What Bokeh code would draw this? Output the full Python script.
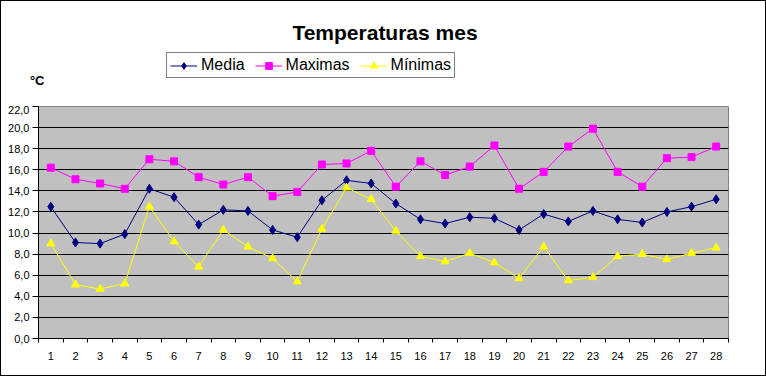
from bokeh.plotting import figure
from bokeh.layouts import column
from bokeh.models import (Range1d, FixedTicker, Legend, LegendItem, Label, LinearAxis)
from bokeh.embed import file_html
from bokeh.resources import INLINE

# ---- data ----
dias = list(range(1, 29))
dia_labels = [str(d) for d in dias]
media = [12.5, 9.1, 9.0, 9.9, 14.2, 13.4, 10.8, 12.2, 12.1, 10.3, 9.6, 13.1, 15.0, 14.7,
         12.8, 11.3, 10.9, 11.5, 11.4, 10.3, 11.8, 11.1, 12.1, 11.3, 11.0, 12.0, 12.5, 13.2]
maximas = [16.2, 15.1, 14.7, 14.2, 17.0, 16.8, 15.3, 14.6, 15.3, 13.5, 13.9, 16.5, 16.6, 17.8,
           14.4, 16.8, 15.5, 16.3, 18.3, 14.2, 15.8, 18.2, 19.9, 15.8, 14.4, 17.1, 17.2, 18.2]
minimas = [9.0, 5.1, 4.7, 5.2, 12.5, 9.2, 6.8, 10.3, 8.7, 7.6, 5.4, 10.4, 14.3, 13.2,
           10.2, 7.8, 7.3, 8.1, 7.2, 5.7, 8.7, 5.5, 5.8, 7.8, 8.0, 7.5, 8.1, 8.6]
y_ticks = [0, 2, 4, 6, 8, 10, 12, 14, 16, 18, 20, 22]
y_tick_labels = ["0,0", "2,0", "4,0", "6,0", "8,0", "10,0", "12,0", "14,0", "16,0",
                 "18,0", "20,0", "22,0"]
series_names = ["Media", "Maximas", "Mínimas"]
colors = ["#000080", "#FF00FF", "#FFFF00"]
markers = ["diamond", "square", "triangle"]
marker_sizes = [9, 7, 8]
title_text = "Temperaturas mes"
unit_text = "°C"

FONT = "Liberation Sans"
W = 764
TOP_H = 104
LB, RB = 37, 37

# ---------- header figure (title, legend, unit) ----------
# data coordinates of this figure equal canvas pixels (y measured upward)
top = figure(width=W, height=TOP_H, x_range=Range1d(LB, W - RB), y_range=Range1d(0, TOP_H),
             x_axis_type=None, y_axis_type=None, output_backend="svg",
             toolbar_location=None, min_border_left=LB, min_border_right=RB,
             min_border_top=0, min_border_bottom=0, outline_line_color=None,
             background_fill_color="white", border_fill_color="white")
top.grid.visible = False

items = []
for name, col, mk, sz in zip(series_names, colors, markers, marker_sizes):
    # off-range sample renderers only used to draw legend glyphs
    lr = top.line([-1000, -999], [-1000, -1000], line_color=col, line_width=1)
    sr = top.scatter([-1000], [-1000], marker=mk, size=sz, fill_color=col, line_color=col)
    items.append(LegendItem(label=name, renderers=[lr, sr]))

legend = Legend(items=items, orientation="horizontal", location=(128, 26.7), margin=0,
                padding=3, spacing=10, glyph_width=27, glyph_height=17,
                label_height=17, label_standoff=4,
                label_text_font=FONT, label_text_font_size="16px", label_text_color="black",
                border_line_color="black", border_line_width=1,
                background_fill_color="white", background_fill_alpha=1)
top.add_layout(legend, "center")

top.add_layout(Label(x=383.5, y=73, text=title_text, text_color="black",
                     text_align="center", text_baseline="alphabetic",
                     text_font=FONT, text_font_size="21px", text_font_style="bold"))

# unit label "°C" drawn as the single label of an invisible left axis (side panel, not clipped)
unit_y = 25
unit_axis = LinearAxis(ticker=FixedTicker(ticks=[unit_y], minor_ticks=[]),
                       major_label_overrides={unit_y: unit_text},
                       axis_line_color=None, major_tick_line_color=None,
                       minor_tick_line_color=None, major_tick_out=0, major_tick_in=0,
                       major_label_standoff=-6, major_label_text_font=FONT,
                       major_label_text_font_size="13px", major_label_text_font_style="bold",
                       major_label_text_color="black")
top.add_layout(unit_axis, "left")

# ---------- main chart ----------
p = figure(width=W, height=270,
           x_range=Range1d(0.5, 28.5), y_range=Range1d(0, 22),
           output_backend="svg", toolbar_location=None,
           min_border_left=LB, min_border_right=RB,
           min_border_top=1, min_border_bottom=37,
           background_fill_color="#C0C0C0", border_fill_color="white",
           outline_line_color="#808080", outline_line_width=1)

p.xaxis.ticker = FixedTicker(ticks=dias, minor_ticks=[d - 0.5 for d in dias] + [dias[-1] + 0.5])
p.xaxis.major_label_overrides = {d: lab for d, lab in zip(dias, dia_labels)}
p.xaxis.major_tick_out = 0
p.xaxis.major_tick_in = 0
p.xaxis.minor_tick_out = 4
p.xaxis.minor_tick_in = 0
p.xaxis.minor_tick_line_color = "black"
p.xaxis.axis_line_color = "black"
p.xaxis.major_label_standoff = 9
p.xaxis.major_label_text_font = FONT
p.xaxis.major_label_text_font_size = "11px"
p.xaxis.major_label_text_color = "black"

p.yaxis.ticker = FixedTicker(ticks=y_ticks, minor_ticks=[])
p.yaxis.major_label_overrides = {t: lab for t, lab in zip(y_ticks, y_tick_labels)}
p.yaxis.major_tick_out = 6
p.yaxis.major_tick_in = 0
p.yaxis.major_tick_line_color = "black"
p.yaxis.axis_line_color = "black"
p.yaxis.major_label_standoff = 3
p.yaxis.major_label_text_font = FONT
p.yaxis.major_label_text_font_size = "11px"
p.yaxis.major_label_text_color = "black"

p.xgrid.grid_line_color = None
p.ygrid.ticker = FixedTicker(ticks=y_ticks[1:-1])
p.ygrid.grid_line_color = "black"
p.ygrid.grid_line_width = 1
p.ygrid.grid_line_alpha = 1

for vals, col, mk, sz in zip([media, maximas, minimas], colors, markers, marker_sizes):
    p.line(dias, vals, line_color=col, line_width=1)
    p.scatter(dias, vals, marker=mk, size=sz, fill_color=col, line_color=col)

layout = column(top, p, spacing=0)
layout.styles = {"border": "1px solid black"}

open("out.html", "w").write(file_html(layout, INLINE))
